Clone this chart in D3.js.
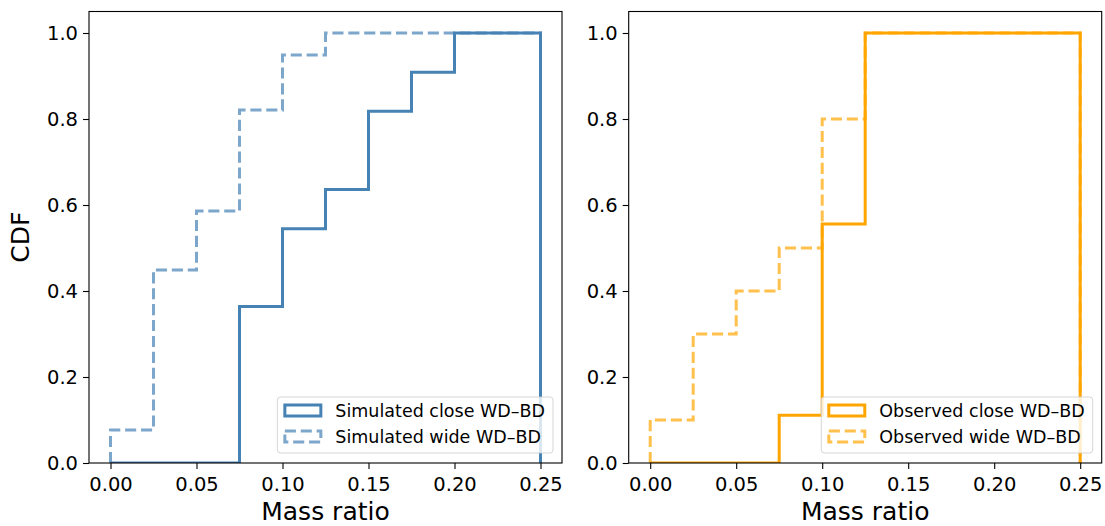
<!DOCTYPE html>
<html>
<head>
<meta charset="UTF-8">
<title>Mass ratio CDF</title>
<style>
  body { margin: 0; background: #ffffff; }
  svg { display: block; font-family: "DejaVu Sans", sans-serif; }
  .axis text { font-family: "DejaVu Sans", sans-serif; font-size: 19.5px; fill: #000000; }
  .axis line { stroke: #000000; stroke-width: 1.1; }
  .axis path { display: none; }
  .label { font-size: 25px; fill: #000000; }
  .legend text { font-size: 17.5px; fill: #000000; }
</style>
</head>
<body>
<svg id="chart" width="1105" height="526"></svg>

<script src="https://d3js.org/d3.v7.min.js"></script>
<script>
  "use strict";

  // bin edges of the cumulative histograms
  var binEdges = [0, 0.025, 0.05, 0.075, 0.1, 0.125, 0.15, 0.175, 0.2, 0.225, 0.25];

  // cumulative fraction per bin
  var simClose = [0, 0, 0, 0.364, 0.545, 0.636, 0.818, 0.909, 1, 1];
  var simWide  = [0.077, 0.449, 0.586, 0.821, 0.949, 1, 1, 1, 1, 1];
  var obsClose = [0, 0, 0, 0.111, 0.556, 1, 1, 1, 1, 1];
  var obsWide  = [0.1, 0.3, 0.4, 0.5, 0.8, 1, 1, 1, 1, 1];

  var seriesNames = [
    ["Simulated close WD\u2013BD", "Simulated wide WD\u2013BD"],
    ["Observed close WD\u2013BD", "Observed wide WD\u2013BD"]
  ];

  var xTicks = [0, 0.05, 0.1, 0.15, 0.2, 0.25];
  var yTicks = [0, 0.2, 0.4, 0.6, 0.8, 1.0];

  var svg = d3.select("#chart");
  var plotTop = 11.5, plotBottom = 463;

  var panels = [
    { x0: 89, x1: 562, color: "#4682b4", close: simClose, wide: simWide, names: seriesNames[0], ylabel: true },
    { x0: 628.7, x1: 1101.7, color: "#ffa500", close: obsClose, wide: obsWide, names: seriesNames[1], ylabel: false }
  ];

  // step outline like matplotlib histtype="step"
  function stepPoints(vals) {
    var pts = [[binEdges[0], 0]];
    vals.forEach(function(v, i) {
      pts.push([binEdges[i], v]);
      pts.push([binEdges[i + 1], v]);
    });
    pts.push([binEdges[binEdges.length - 1], 0]);
    return pts;
  }

  panels.forEach(function(p, k) {
    var x = d3.scaleLinear().domain([-0.0125, 0.2625]).range([p.x0, p.x1]);
    var y = d3.scaleLinear().domain([0, 1.05]).range([plotBottom, plotTop]);

    var clipId = "clip" + k;
    svg.append("clipPath").attr("id", clipId)
      .append("rect")
      .attr("x", p.x0).attr("y", plotTop)
      .attr("width", p.x1 - p.x0).attr("height", plotBottom - plotTop);

    var line = d3.line().x(function(d){ return x(d[0]); }).y(function(d){ return y(d[1]); });
    var g = svg.append("g").attr("clip-path", "url(#" + clipId + ")");

    g.append("path")
      .attr("d", line(stepPoints(p.close)))
      .attr("fill", "none")
      .attr("stroke", p.color)
      .attr("stroke-width", 3);

    g.append("path")
      .attr("d", line(stepPoints(p.wide)))
      .attr("fill", "none")
      .attr("stroke", p.color)
      .attr("stroke-opacity", 0.7)
      .attr("stroke-width", 3)
      .attr("stroke-dasharray", "11.1,4.8");

    // axes
    svg.append("g")
      .attr("class", "axis")
      .attr("transform", "translate(0," + plotBottom + ")")
      .call(d3.axisBottom(x).tickValues(xTicks).tickFormat(d3.format(".2f"))
        .tickSize(6).tickPadding(8));

    svg.append("g")
      .attr("class", "axis")
      .attr("transform", "translate(" + p.x0 + ",0)")
      .call(d3.axisLeft(y).tickValues(yTicks).tickFormat(d3.format(".1f"))
        .tickSize(6).tickPadding(5));

    svg.append("rect")
      .attr("x", p.x0).attr("y", plotTop)
      .attr("width", p.x1 - p.x0).attr("height", plotBottom - plotTop)
      .attr("fill", "none")
      .attr("stroke", "#000000")
      .attr("stroke-width", 1.1);

    svg.append("text")
      .attr("class", "label")
      .attr("x", (p.x0 + p.x1) / 2)
      .attr("y", 520)
      .attr("text-anchor", "middle")
      .text("Mass ratio");

    if (p.ylabel) {
      svg.append("text")
        .attr("class", "label")
        .attr("transform", "translate(29," + ((plotTop + plotBottom) / 2) + ") rotate(-90)")
        .attr("text-anchor", "middle")
        .text("CDF");
    }

    // legend, lower right
    var lg = svg.append("g").attr("class", "legend");
    var box = lg.append("rect")
      .attr("rx", 3)
      .attr("fill", "#ffffff").attr("fill-opacity", 0.8)
      .attr("stroke", "#cccccc").attr("stroke-opacity", 0.8)
      .attr("stroke-width", 1);

    var items = [
      { name: p.names[0], dash: null, op: 1 },
      { name: p.names[1], dash: "11.1,4.8", op: 0.7 }
    ];
    var maxW = 0;
    var texts = items.map(function(it, i) {
      var t = lg.append("text").attr("y", 416.5 + i * 26).text(it.name);
      maxW = Math.max(maxW, t.node().getComputedTextLength());
      return t;
    });
    var boxW = 7 + 38 + 13 + maxW + 8;
    var bx = p.x1 - 9 - boxW;
    box.attr("x", bx).attr("y", 397).attr("width", boxW).attr("height", 56);
    texts.forEach(function(t){ t.attr("x", bx + 58); });
    items.forEach(function(it, i) {
      lg.append("rect")
        .attr("x", bx + 7.5).attr("y", 405 + i * 26)
        .attr("width", 36).attr("height", 11)
        .attr("fill", "none")
        .attr("stroke", p.color)
        .attr("stroke-opacity", it.op)
        .attr("stroke-width", 3)
        .attr("stroke-dasharray", it.dash);
    });
  });
</script>
</body>
</html>
